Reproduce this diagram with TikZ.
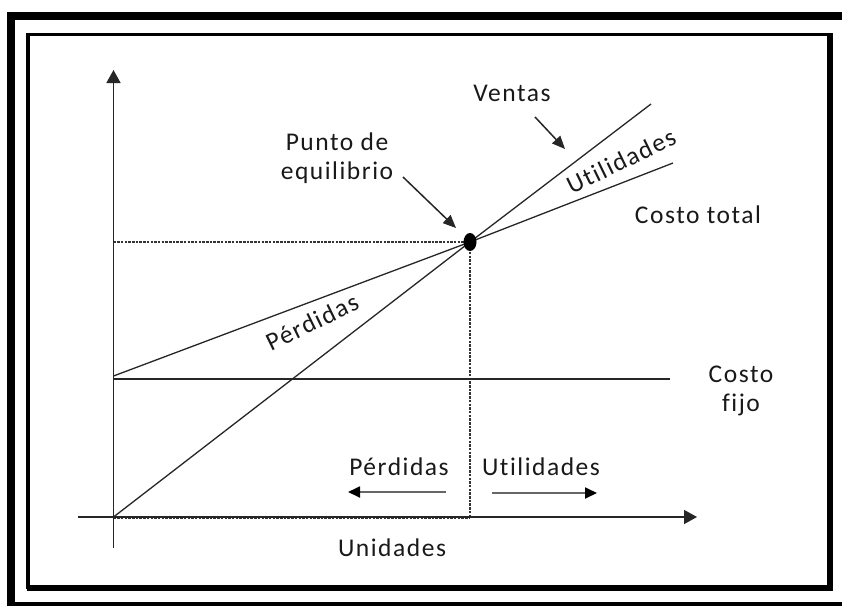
\documentclass[tikz,border=0pt]{standalone}
\usepackage{fontspec}
\setmainfont{Carlito}[LetterSpace=6,Ligatures={NoCommon,NoContextual}]
\usetikzlibrary{arrows.meta,calc}
\begin{document}
\begin{tikzpicture}[x=1pt,y=-1pt,
  lbl/.style={font=\fontsize{25.5}{29}\selectfont, inner sep=0pt, align=center, text=black!90},
  curve/.style={line width=1.3pt, black!85},
  guide/.style={line width=1.1pt, dashed, dash pattern=on 2.5pt off 1.2pt, black!80},
  axis/.style={line width=1.5pt, black!85, -{Triangle[length=13pt,width=14pt]}},
  ptr/.style={line width=1.5pt, black!85, -{Triangle[length=13pt,width=11pt]}},
  dirarr/.style={line width=1.8pt, black!60, -{Triangle[length=12pt,width=11pt,color=black]}}]
\useasboundingbox (0,0) rectangle (842,605);
\fill[white] (0,0) rectangle (842,605);
% frames
\draw[line width=8pt] (11,16) rectangle (860,606);
\draw[line width=3.5pt] (28,34.5) rectangle (829,587);
\fill[black] (829,33) rectangle (833,590);
\fill[black] (27,587) rectangle (833,590.5);
% key points
\coordinate (O) at (113.5,517);
\coordinate (E) at (470,242);
\coordinate (Ey) at (113.5,242);
\coordinate (Ex) at (470,517);
\coordinate (F0) at (113.5,376);
\coordinate (Vend) at (651,104);
\coordinate (Cend) at (673,163);
\coordinate (Fend) at (670,379);
\coordinate (XL) at (78,517);
\coordinate (XR) at (697,517);
\coordinate (YB) at (113.5,548);
\coordinate (YT) at (113.5,70);
% guides
\draw[guide] (Ey) -- (E) -- (Ex);
\draw[guide] ($(O)+(0,1)$) -- ($(Ex)+(0,1)$);
% axes
\draw[axis] (XL) -- (XR);
\draw[axis] (YB) -- (YT);
% lines
\draw[curve] (113.5,379) -- (Fend);
\draw[curve] (F0) -- (E) -- (Cend);
\draw[curve] (O) -- (E) -- (Vend);
\fill[black] (E) ellipse [x radius=6.5, y radius=9];
% labels
\node[lbl] (ventas) at (512,93) {Ventas};
\coordinate (va1) at (535,117);
\coordinate (va2) at (565,149);
\draw[ptr] (va1) -- (va2);
\node[lbl] (punto) at (337,158) {Punto de\\equilibrio};
\coordinate (pa1) at (403,177);
\coordinate (pa2) at (456,228);
\draw[ptr] (pa1) -- (pa2);
\node[lbl, rotate=26] (utilR) at (621,161) {Utilidades};
\node[lbl] (ctotal) at (698,215) {Costo total};
\node[lbl, rotate=26] (perdR) at (312,322) {Pérdidas};
\node[lbl] (cfijo) at (741,391) {Costo\\fijo};
\node[lbl] (perdB) at (399,467) {Pérdidas};
\node[lbl] (utilB) at (541,467) {Utilidades};
\coordinate (lp1) at (446,492);
\coordinate (lp2) at (348,492);
\draw[dirarr] (lp1) -- (lp2);
\coordinate (rp1) at (492,493);
\coordinate (rp2) at (597,493);
\draw[dirarr] (rp1) -- (rp2);
\node[lbl] (unid) at (392,548) {Unidades};
\end{tikzpicture}
\end{document}
